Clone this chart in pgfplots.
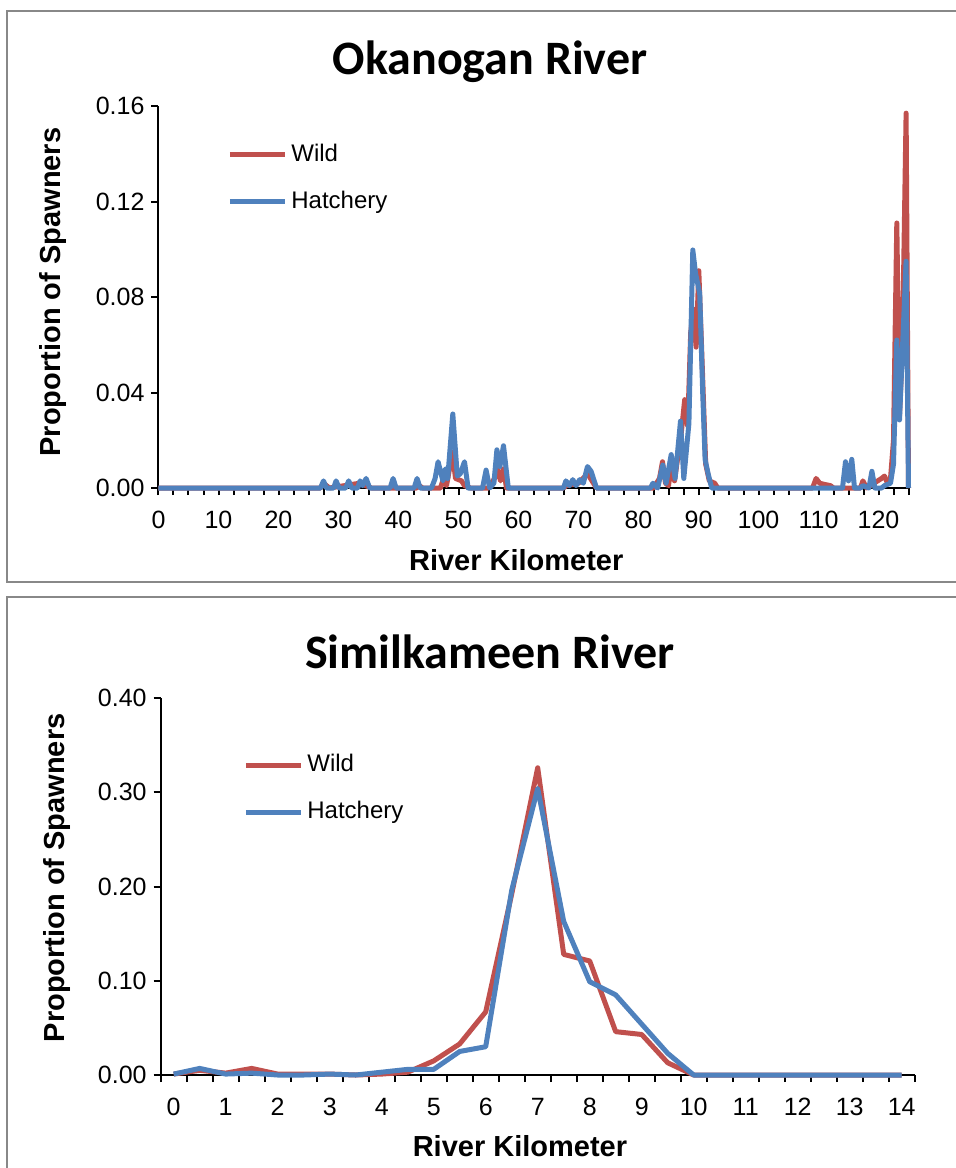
\documentclass[border=0pt]{standalone}
\usepackage{fontspec}
\setmainfont{Liberation Sans}
\newfontfamily\titlefont{Carlito}
\usepackage{pgfplots}
\pgfplotsset{compat=1.18}

\definecolor{wild}{HTML}{C0504D}
\definecolor{hatch}{HTML}{4F81BD}
\definecolor{framegray}{HTML}{888888}

\pgfplotsset{
  river/.style={
    scale only axis,
    axis x line*=bottom, axis y line*=left,
    axis line style={line width=1pt, black},
    tick align=outside,
    major tick length=3.5pt, minor tick length=3.5pt,
    tick style={black, line width=1pt},
    tick label style={font=\fontsize{12.5}{15}\selectfont},
    xticklabel style={yshift=-4.5pt},
    /pgf/number format/assume math mode=true,
    yticklabel style={/pgf/number format/.cd, fixed, fixed zerofill, precision=2},
    clip=false,
    every axis plot/.append style={line width=2.5pt, line join=round, no markers},
    legend image code/.code={\draw[#1] (0pt,0pt) -- (27.5pt,0pt);},
    legend style={draw=none, fill=none, inner sep=0pt,
      font=\fontsize{12}{14}\selectfont, row sep=10pt, column sep=1pt,
      nodes={inner sep=1pt, text height=9pt, text depth=2.5pt},
      cells={anchor=west}},
    label style={font=\bfseries\fontsize{14.5}{17}\selectfont},
  }
}

\begin{document}
\begin{tikzpicture}
\useasboundingbox (0,0) rectangle (478pt,-584pt);
\clip (0,0) rectangle (478pt,-584pt);
\draw[framegray, line width=1pt] (3.5pt,-5.5pt) rectangle (481pt,-291pt);
\draw[framegray, line width=1pt] (3.5pt,-298.5pt) rectangle (481pt,-590pt);

% Okanogan River
\begin{axis}[river,
    at={(79.25pt,-244pt)}, anchor=south west,
    width=375pt, height=191pt,
    xmin=0, xmax=125, ymin=0, ymax=0.16,
    xtick={0,10,...,120}, minor xtick={0,2.5,...,125},
    ytick={0,0.04,0.08,0.12,0.16},
    xlabel={River Kilometer},
    xlabel style={at={(axis description cs:0.477,-0.188)}, anchor=center},
    ylabel={Proportion of Spawners},
    ylabel style={at={(axis description cs:-0.14,0.513)}, anchor=center},
    legend style={at={(axis description cs:0.0913,0.8115)}, anchor=west},
  ]
  \addplot[wild] coordinates {
    (0,0) (27,0) (27.5,0.002) (28.5,0) (33.5,0.002) (34.5,0.001) (35.5,0)
    (43,0) (43.5,0.001) (44,0) (47,0) (47.5,0.004) (48,0.001) (49,0.015)
    (49.5,0.004) (50.5,0.003) (51,0.001) (52,0) (55,0) (55.5,0.002) (56,0.004)
    (56.5,0.008) (57,0.003) (57.5,0.008) (58,0) (67.5,0) (68,0.001) (70,0.002)
    (71.5,0.006) (72,0.004) (73,0) (82.5,0) (83.5,0.004) (84,0.011) (84.5,0.002)
    (85,0.001) (85.5,0.010) (86,0.003) (86.5,0.012) (87,0.020) (87.7,0.037)
    (88.2,0.026) (88.7,0.065) (89.1,0.075) (89.6,0.059) (90.05,0.091) (90.5,0.060)
    (91.2,0.010) (91.8,0.003) (92.7,0.002) (93.2,0) (109,0) (109.6,0.004)
    (110.2,0.002) (111,0.0015) (112,0.001) (112.5,0) (117,0) (117.4,0.003)
    (118,0) (120.5,0.004) (121,0.005) (121.5,0.002) (122,0.004) (122.5,0.020)
    (123.05,0.111) (123.5,0.030) (124,0.060) (124.6,0.157) (125,0)
  };
  \addlegendentry{Wild}
  \addplot[hatch] coordinates {
    (0,0) (27,0) (27.5,0.003) (28,0) (29.2,0) (29.6,0.003) (30.1,0) (31.2,0)
    (31.7,0.003) (32.2,0) (33.2,0) (33.6,0.003) (34,0.001) (34.6,0.004) (35.2,0)
    (38.6,0) (39.1,0.004) (39.6,0) (42.6,0) (43.1,0.004) (43.6,0) (45.5,0)
    (46.1,0.004) (46.6,0.011) (47.4,0.003) (47.8,0.008) (48.2,0.004) (49.05,0.031)
    (49.8,0.005) (50.3,0.006) (51,0.011) (51.6,0) (54,0) (54.6,0.0075) (55.2,0)
    (55.9,0.002) (56.4,0.016) (56.9,0.009) (57.5,0.0177) (58.3,0) (67.5,0)
    (67.9,0.003) (68.5,0.001) (69.05,0.0035) (69.6,0.001) (70.2,0.0035) (70.8,0.002)
    (71.5,0.009) (72.1,0.007) (73,0) (82,0) (82.4,0.002) (83.2,0) (84.05,0.0096)
    (84.6,0.002) (85.45,0.014) (86.1,0.004) (87,0.028) (87.55,0.004) (88.4,0.027)
    (89.05,0.0997) (89.5,0.090) (90.2,0.0815) (90.7,0.040) (91.1,0.012) (91.6,0.006)
    (92.2,0) (114,0) (114.5,0.011) (115,0.003) (115.55,0.012) (116,0) (117,0)
    (117.4,0.001) (118.4,0) (118.9,0.007) (119.4,0) (120.5,0) (121,0.001)
    (122,0.002) (122.5,0.010) (123.05,0.062) (123.5,0.0285) (124.6,0.095) (125,0)
  };
  \addlegendentry{Hatchery}
\end{axis}

% Similkameen River
\begin{axis}[river,
    at={(80.35pt,-537.5pt)}, anchor=south west,
    width=377pt, height=188.5pt,
    xmin=-0.25, xmax=14.25, ymin=0, ymax=0.4,
    xtick={-0.25,0.25,...,14.25},
    xticklabels={0,{},1,{},2,{},3,{},4,{},5,{},6,{},7,{},8,{},9,{},10,{},11,{},12,{},13,{},14,{}},
    xticklabel style={xshift=6.5pt},
    ytick={0,0.1,0.2,0.3,0.4},
    xlabel={River Kilometer},
    xlabel style={at={(axis description cs:0.4765,-0.188)}, anchor=center},
    ylabel={Proportion of Spawners},
    ylabel style={at={(axis description cs:-0.1375,0.523)}, anchor=center},
    legend style={at={(axis description cs:0.1091,0.759)}, anchor=west},
  ]
  \addplot[wild] coordinates {
    (0,0.001) (0.5,0.005) (1,0.002) (1.5,0.007) (2,0.001) (2.5,0.001) (3,0.001)
    (3.5,0) (4,0.001) (4.5,0.003) (5,0.015) (5.5,0.033) (6,0.067) (6.5,0.192)
    (7,0.326) (7.5,0.128) (8,0.121) (8.5,0.046) (9,0.043) (9.5,0.013) (10,0)
    (10.5,0) (11,0) (11.5,0) (12,0) (12.5,0) (13,0) (13.5,0) (14,0)
  };
  \addlegendentry{Wild}
  \addplot[hatch] coordinates {
    (0,0.001) (0.5,0.007) (1,0.001) (1.5,0.002) (2,0) (2.5,0) (3,0.001)
    (3.5,0) (4,0.003) (4.5,0.006) (5,0.006) (5.5,0.025) (6,0.030) (6.5,0.196)
    (7,0.304) (7.5,0.163) (8,0.099) (8.5,0.085) (9,0.054) (9.5,0.023) (10,0)
    (10.5,0) (11,0) (11.5,0) (12,0) (12.5,0) (13,0) (13.5,0) (14,0)
  };
  \addlegendentry{Hatchery}
\end{axis}

\node[font=\titlefont\bfseries\fontsize{24}{28}\selectfont] at (245pt,-31pt) {Okanogan River};
\node[font=\titlefont\bfseries\fontsize{24}{28}\selectfont] at (245pt,-326pt) {Similkameen River};
\end{tikzpicture}
\end{document}
